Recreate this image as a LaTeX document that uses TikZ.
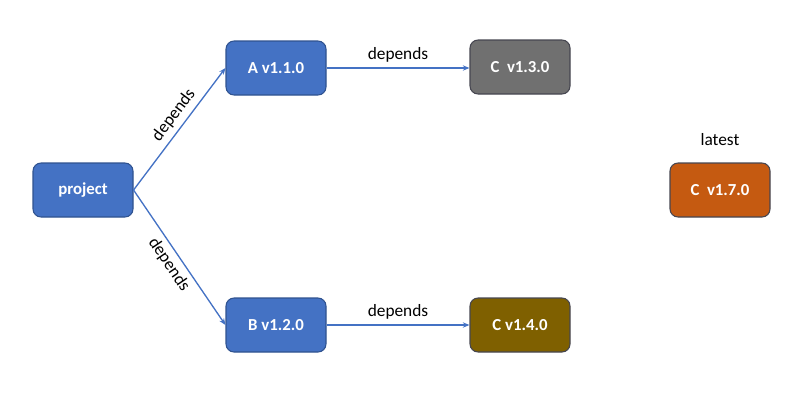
\documentclass[tikz,border=0pt]{standalone}
\usepackage{fontspec}
\setmainfont{Carlito}
\usepackage{xcolor}
\usepackage{tikz}
\usetikzlibrary{arrows.meta,positioning}
\definecolor{pkgblue}{RGB}{68,114,196}
\definecolor{pkgedge}{RGB}{47,82,143}
\definecolor{pkggray}{RGB}{112,112,112}
\definecolor{pkgbrown}{RGB}{127,96,0}
\definecolor{pkgorange}{RGB}{197,90,17}
\definecolor{grayedge}{RGB}{70,70,80}
\tikzset{
  pkgbox/.style={rectangle, rounded corners=6pt, draw=pkgedge, line width=0.8pt,
                 fill=pkgblue, text=white, font=\fontsize{12.6}{14}\selectfont\bfseries,
                 minimum width=75pt, minimum height=40.5pt, inner sep=2pt},
  pkgboxgray/.style={pkgbox, draw=grayedge, fill=pkggray},
  pkgboxbrown/.style={pkgbox, draw=grayedge, fill=pkgbrown},
  pkgboxorange/.style={pkgbox, draw=grayedge, fill=pkgorange},
  dep/.style={-{Stealth[length=5pt,width=4pt]}, line width=1pt, color=pkgblue},
  lbl/.style={font=\fontsize{13}{15}\selectfont, text=black, inner sep=3.5pt},
}

\begin{document}
\begin{tikzpicture}[x=0.75pt,y=-0.75pt]
  \useasboundingbox (0,0) rectangle (803,404);
  % packages
  \node[pkgbox] (proj) at (83,190) {project};
  \node[pkgbox] (a) at (276,68) {A v1.1.0};
  \node[pkgbox] (b) at (276,325) {B v1.2.0};
  \node[pkgboxgray] (c13) at (520,67) {C\ \ v1.3.0};
  \node[pkgboxbrown] (c14) at (520,325) {C v1.4.0};
  \node[pkgboxorange] (c17) at (720,190) {C\ \ v1.7.0};
  \node[lbl, above=9pt of c17] (lat) {latest};
  % dependency edges
  \draw[dep] (proj.east) -- node[lbl, sloped, above, pos=0.55] {depends} (a.west);
  \draw[dep] (proj.east) -- node[lbl, sloped, below, pos=0.5] {depends} (b.west);
  \draw[dep] (a.east) -- node[lbl, above] {depends} (a.east -| c13.west);
  \draw[dep] (b.east) -- node[lbl, above] {depends} (c14.west);
\end{tikzpicture}
\end{document}
